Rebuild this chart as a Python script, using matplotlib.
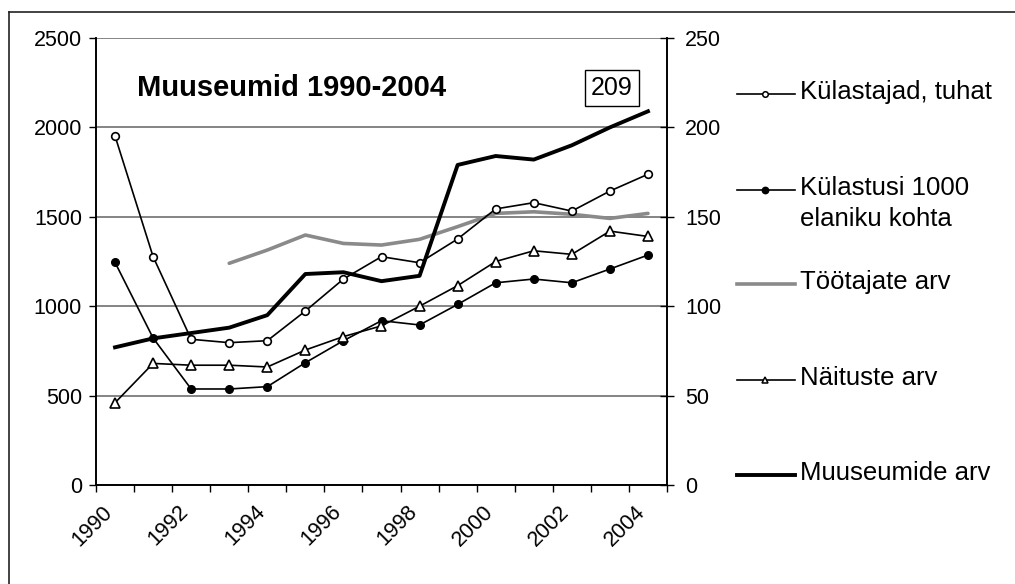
import numpy as np
import matplotlib
matplotlib.use("Agg")
import matplotlib.pyplot as plt
import matplotlib.transforms as mtransforms
from matplotlib.lines import Line2D

plt.rcParams["font.family"] = ["Liberation Sans", "DejaVu Sans"]

# data
years = list(range(1990, 2005))
kylastajad = [1952, 1277, 815, 796, 807, 973, 1152, 1277, 1243, 1376, 1544, 1579, 1532, 1644, 1738]
kylastusi = [1245, 822, 537, 537, 550, 684, 807, 919, 895, 1010, 1131, 1152, 1131, 1208, 1286]
tootajad = [np.nan, np.nan, np.nan, 1240, 1314, 1398, 1351, 1342, 1374, 1445, 1519, 1528, 1514, 1491, 1519]
naitused = [46, 68, 67, 67, 66, 75.5, 83, 89, 100, 111.5, 125, 131, 129, 142, 139]
muuseumid = [77, 82, 85, 88, 95, 118, 119, 114, 117, 179, 184, 182, 190, 200, 209]

left_ticks = [0, 500, 1000, 1500, 2000, 2500]
right_ticks = [0, 50, 100, 150, 200, 250]
year_labels = [str(y) for y in years[::2]]

W, H = 1015, 584
fig = plt.figure(figsize=(W / 100, H / 100), dpi=100)
ax = fig.add_axes([96 / W, 1 - 485 / H, (667 - 96) / W, (485 - 38) / H])
ax2 = ax.twinx()

x = np.arange(len(years))

# left axis series
ax.plot(x, tootajad, color="#8a8a8a", lw=2.6, solid_capstyle="round", zorder=3)
ax.plot(x, kylastajad, color="black", lw=1.2, marker="o", ms=5.5,
        mfc="white", mec="black", mew=1.2, zorder=4)
ax.plot(x, kylastusi, color="black", lw=1.2, marker="o", ms=5.5,
        mfc="black", mec="black", zorder=4)

# right axis series
ax2.plot(x, naitused, color="black", lw=1.2, marker="^", ms=6.5,
         mfc="white", mec="black", mew=1.2, zorder=4)
ax2.plot(x, muuseumid, color="black", lw=2.8, zorder=3)

ax.set_xlim(-0.5, len(years) - 0.5)
ax.set_ylim(0, 2500)
ax2.set_ylim(0, 250)

ax.set_yticks(left_ticks)
ax.set_yticklabels([str(t) for t in left_ticks])
ax2.set_yticks(right_ticks)
ax2.set_yticklabels([str(t) for t in right_ticks])

ax.set_xticks(x[::2])
ax.set_xticklabels(year_labels, rotation=45, ha="right", rotation_mode="anchor")
ax.set_xticks(np.arange(-0.5, len(years), 1.0), minor=True)
ax.tick_params(axis="x", which="major", length=0, pad=9, labelsize=15.5)
ax.tick_params(axis="x", which="minor", length=5, width=1, direction="out")
ax.tick_params(axis="y", length=5, width=1, direction="out", pad=5, labelsize=15.5)
ax2.tick_params(axis="y", length=10, width=1, direction="inout", pad=8, labelsize=15.5)

# nudge the rotated year labels left/down like the reference
shift = mtransforms.ScaledTranslation(-13 / 100, -4 / 100, fig.dpi_scale_trans)
for lbl in ax.get_xticklabels():
    lbl.set_transform(lbl.get_transform() + shift)

ax.grid(axis="y", color="#707070", lw=1.2, zorder=0)
ax.set_axisbelow(True)
for a in (ax, ax2):
    a.spines["top"].set_visible(False)
    a.spines["left"].set_linewidth(1.2)
    a.spines["right"].set_linewidth(1.2)
    a.spines["bottom"].set_linewidth(1.2)

# title and value box
fig.text(137 / W, 1 - 88 / H, "Muuseumid 1990-2004", fontsize=21,
         fontweight="bold", va="center", ha="left")
fig.text(612 / W, 1 - 88 / H, str(muuseumid[-1]), fontsize=18,
         ha="center", va="center",
         bbox=dict(boxstyle="square,pad=0.25", fc="white", ec="black", lw=1))

# legend drawn by hand to the right
legend_items = [
    ("Külastajad, tuhat", 94, dict(color="black", lw=1.2, marker="o", ms=4,
                                    mfc="white", mec="black")),
    ("Külastusi 1000\nelaniku kohta", 190, dict(color="black", lw=1.2, marker="o",
                                                ms=4.5, mfc="black", mec="black")),
    ("Töötajate arv", 284, dict(color="#8a8a8a", lw=2.6)),
    ("Näituste arv", 380, dict(color="black", lw=1.2, marker="^", ms=5,
                               mfc="white", mec="black")),
    ("Muuseumide arv", 475, dict(color="black", lw=2.8)),
]
for label, ypix, style in legend_items:
    yf = 1 - ypix / H
    kw = {k: v for k, v in style.items() if k not in ("marker", "ms", "mfc", "mec")}
    fig.add_artist(Line2D([737 / W, 795 / W], [yf, yf], transform=fig.transFigure, **kw))
    if "marker" in style:
        fig.add_artist(Line2D([765 / W], [yf], transform=fig.transFigure,
                              marker=style["marker"], ms=style["ms"],
                              mfc=style["mfc"], mec=style["mec"], mew=1.1, lw=0))
    fig.text(800 / W, yf + 14 / H, label, fontsize=18.5, ha="left", va="top",
             linespacing=1.38)

# outer frame (top and left edges visible in the reference)
fig.add_artist(Line2D([9 / W, 1], [1 - 12 / H, 1 - 12 / H], color="#222222", lw=1.2,
                      transform=fig.transFigure))
fig.add_artist(Line2D([9 / W, 9 / W], [0, 1 - 12 / H], color="#222222", lw=1.2,
                      transform=fig.transFigure))

fig.savefig("out.png", dpi=100)
